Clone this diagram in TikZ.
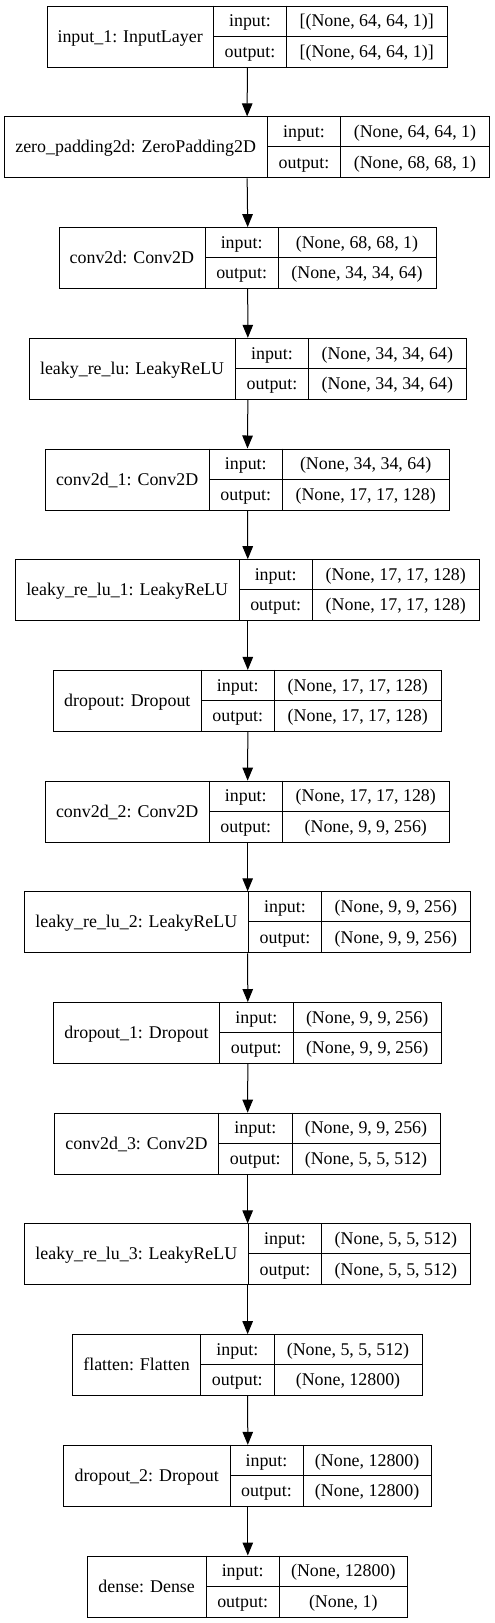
\documentclass[tikz,border=0pt]{standalone}
\usepackage{fontspec}
\setmainfont{Liberation Serif}
\usetikzlibrary{arrows.meta}
\tikzset{
  box/.style={draw, line width=1pt, inner sep=0pt, minimum height=61pt, anchor=north west},
  sep/.style={line width=1pt},
  txt/.style={anchor=base, inner sep=0pt, font=\fontsize{17.9}{21}\selectfont},
  flow/.style={line width=1pt, -{Triangle[length=13pt,width=10.5pt]}}
}
% #1 idx, #2 left, #3 div1, #4 div2, #5 right, #6 name, #7 in, #8 out
\newcommand{\lyr}[8]{%
  \pgfmathsetmacro\yt{5.7+#1*110.7}
  \pgfmathsetmacro\yb{\yt+61}
  \pgfmathsetmacro\ym{\yt+30.5}
  \node[box, minimum width={(#5-#2)*1pt}] (L#1) at (#2,\yt) {};
  \draw[sep] (#3,\yt) -- (#3,\yb);
  \draw[sep] (#4,\yt) -- (#4,\yb);
  \draw[sep] (#3,\ym) -- (#5,\ym);
  \node[txt] (L#1name) at ({(#2+#3)/2},\ym+6) {#6};
  \node[txt] (L#1inl) at ({(#3+#4)/2},\yt+15.25+6) {input:};
  \node[txt] (L#1inv) at ({(#4+#5)/2},\yt+15.25+6) {#7};
  \node[txt] (L#1outl) at ({(#3+#4)/2},\ym+15.25+6) {output:};
  \node[txt] (L#1outv) at ({(#4+#5)/2},\ym+15.25+6) {#8};
}
\begin{document}
\begin{tikzpicture}[x=1pt,y=-1pt]
\useasboundingbox (0,0) rectangle (495,1623);
\lyr{0}{47}{213.3}{286.7}{446.7}{input\_1: InputLayer}{[(None, 64, 64, 1)]}{[(None, 64, 64, 1)]}
\lyr{1}{4}{267.3}{340.7}{489.3}{zero\_padding2d: ZeroPadding2D}{(None, 64, 64, 1)}{(None, 68, 68, 1)}
\lyr{2}{58.7}{205}{278.3}{435.7}{conv2d: Conv2D}{(None, 68, 68, 1)}{(None, 34, 34, 64)}
\lyr{3}{28.7}{235.3}{308.7}{466}{leaky\_re\_lu: LeakyReLU}{(None, 34, 34, 64)}{(None, 34, 34, 64)}
\lyr{4}{45}{209.3}{282.3}{449}{conv2d\_1: Conv2D}{(None, 34, 34, 64)}{(None, 17, 17, 128)}
\lyr{5}{15.3}{239}{312.3}{479.3}{leaky\_re\_lu\_1: LeakyReLU}{(None, 17, 17, 128)}{(None, 17, 17, 128)}
\lyr{6}{53.3}{201.3}{274.3}{441.3}{dropout: Dropout}{(None, 17, 17, 128)}{(None, 17, 17, 128)}
\lyr{7}{45}{209.3}{282.3}{449.3}{conv2d\_2: Conv2D}{(None, 17, 17, 128)}{(None, 9, 9, 256)}
\lyr{8}{24.3}{248.3}{321.7}{470}{leaky\_re\_lu\_2: LeakyReLU}{(None, 9, 9, 256)}{(None, 9, 9, 256)}
\lyr{9}{53.3}{219.7}{293}{441.3}{dropout\_1: Dropout}{(None, 9, 9, 256)}{(None, 9, 9, 256)}
\lyr{10}{54.3}{218.7}{292}{440}{conv2d\_3: Conv2D}{(None, 9, 9, 256)}{(None, 5, 5, 512)}
\lyr{11}{24.3}{248.3}{321.7}{470}{leaky\_re\_lu\_3: LeakyReLU}{(None, 5, 5, 512)}{(None, 5, 5, 512)}
\lyr{12}{72.3}{200.7}{274}{422}{flatten: Flatten}{(None, 5, 5, 512)}{(None, 12800)}
\lyr{13}{63.3}{230}{303}{431.3}{dropout\_2: Dropout}{(None, 12800)}{(None, 12800)}
\lyr{14}{87.3}{206}{279.3}{407.3}{dense: Dense}{(None, 12800)}{(None, 1)}
\foreach \a [evaluate=\a as \b using int(\a+1)] in {0,...,13} {
  \draw[flow] (L\a.south) -- (L\b.north);
}
\end{tikzpicture}
\end{document}
